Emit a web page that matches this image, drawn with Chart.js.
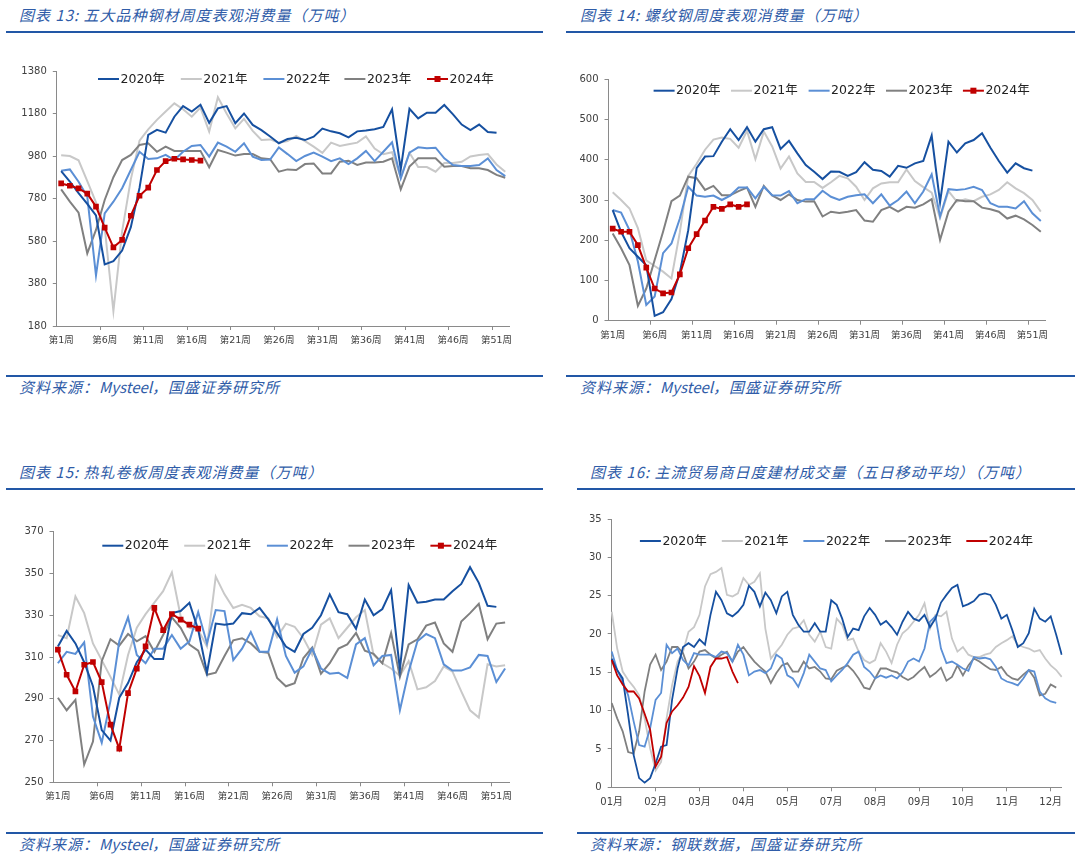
<!DOCTYPE html>
<html><head><meta charset="utf-8">
<script src="https://cdn.jsdelivr.net/npm/chart.js@4.4.1/dist/chart.umd.min.js"></script>
<style>
html,body{margin:0;padding:0;background:#fff;}
body{width:1080px;height:855px;position:relative;overflow:hidden;}
.t{position:absolute;font-family:'Noto Sans CJK SC',sans-serif;font-style:italic;font-size:15px;letter-spacing:1px;color:#2f5ca8;white-space:nowrap;line-height:15px;}
.t span{letter-spacing:0;}
.r{position:absolute;height:2px;background:#2257a6;}
canvas{position:absolute;}
</style></head><body>
<div class="t" style="left:19px;top:7px">图表 13: 五大品种钢材周度表观消费量（万吨）</div>
<div class="r" style="left:6px;top:31px;width:537px"></div>
<div class="r" style="left:6px;top:375px;width:537px"></div>
<div class="t" style="left:19px;top:379px">资料来源：<span>Mysteel</span>，国盛证券研究所</div>

<div class="t" style="left:580px;top:7px">图表 14: 螺纹钢周度表观消费量（万吨）</div>
<div class="r" style="left:566px;top:31px;width:509px"></div>
<div class="r" style="left:566px;top:375px;width:509px"></div>
<div class="t" style="left:580px;top:379px">资料来源：<span>Mysteel</span>，国盛证券研究所</div>

<div class="t" style="left:19px;top:464px">图表 15: 热轧卷板周度表观消费量（万吨）</div>
<div class="r" style="left:6px;top:488px;width:537px"></div>
<div class="r" style="left:6px;top:832px;width:537px"></div>
<div class="t" style="left:19px;top:836px">资料来源：<span>Mysteel</span>，国盛证券研究所</div>

<div class="t" style="left:590px;top:464px">图表 16: 主流贸易商日度建材成交量（五日移动平均）（万吨）</div>
<div class="r" style="left:577px;top:488px;width:498px"></div>
<div class="r" style="left:577px;top:832px;width:498px"></div>
<div class="t" style="left:590px;top:836px">资料来源：钢联数据，国盛证券研究所</div>

<canvas id="c1"></canvas>
<canvas id="c2"></canvas>
<canvas id="c3"></canvas>
<canvas id="c4"></canvas>
<script>
// ---------- DATA ----------
const seriesNames = ['2020年','2021年','2022年','2023年','2024年'];
const weekLabels = Array.from({length: 52}, (_, i) => '第' + (i + 1) + '周');
const monthTicks = ['01月','02月','03月','04月','05月','07月','08月','09月','10月','11月','12月'];

// 图表13 五大品种钢材周度表观消费量
const five2020 = [909,860,805,755,700,470,485,535,645,830,1079,1103,1090,1165,1215,1189,1221,1136,1204,1215,1134,1180,1126,1102,1072,1040,1060,1066,1055,1071,1109,1096,1087,1068,1096,1100,1106,1117,1200,918,1202,1157,1184,1184,1220,1176,1128,1102,1128,1093,1089,null];
const five2021 = [983,980,960,862,762,645,250,625,870,1052,1105,1150,1189,1228,1200,1165,1208,1095,1256,1180,1110,1155,1098,1055,1058,1042,1050,1075,1050,1024,995,1043,1027,1035,1043,1072,1015,988,998,880,995,928,928,906,947,947,953,978,985,989,940,906];
const five2022 = [911,917,859,789,418,710,765,828,914,1000,966,969,985,961,1000,1027,1032,977,1043,1024,1000,1040,977,961,963,1020,989,956,980,996,977,956,969,942,969,1004,956,1000,1044,875,996,1021,1016,1019,969,938,933,933,938,969,914,885];
const five2023 = [823,765,713,522,632,773,880,961,985,1032,1040,1000,1024,1004,1004,1004,1004,927,1008,996,982,989,989,969,965,906,917,914,942,945,898,898,953,958,938,949,949,953,969,823,930,969,969,969,930,933,933,922,922,914,891,878];
const five2024 = [851,840,828,803,742,643,550,585,699,793,831,914,956,967,964,961,958];

// 图表14 螺纹钢周度表观消费量
const rebar2020 = [275,221,180,159,138,12,21,54,120,225,379,408,409,445,476,449,481,445,476,481,427,447,416,387,370,352,371,370,360,369,394,375,372,358,385,380,391,397,460,294,445,418,441,449,466,430,397,368,391,379,373,null];
const rebar2021 = [319,300,279,230,150,136,122,105,220,360,390,425,450,455,452,430,472,402,470,433,378,408,366,345,345,330,344,360,354,333,300,329,341,344,344,376,347,332,318,255,322,296,302,297,308,314,325,344,329,317,300,271];
const rebar2022 = [275,269,225,147,39,60,168,192,254,333,311,308,311,300,311,331,331,304,333,312,311,322,292,302,302,323,308,300,308,312,314,292,314,286,300,321,292,321,364,259,327,325,327,333,325,292,283,283,279,297,267,248];
const rebar2023 = [217,180,138,37,80,151,221,297,311,358,354,325,335,312,312,322,331,283,335,311,300,314,300,296,297,259,271,268,271,275,249,246,275,283,271,283,281,289,302,201,271,300,297,297,281,277,271,254,261,252,238,221];
const rebar2024 = [229,221,221,188,132,80,68,70,115,180,215,249,283,278,289,283,289];

// 图表15 热轧卷板周度表观消费量
const hrc2020 = [315,322.5,316.5,307.5,296,275,270,290.5,297.5,307.5,313.5,309,309,331,332,336,323,302.5,326,325.5,326,331,330.5,333.5,328,321.5,315,312.5,321,324,330,340,331.5,330.5,323.5,337.5,330,333,342,304,344.5,336,336.5,337.5,337.5,341.5,345,353,345.5,334.5,334,null];
const hrc2021 = [320.5,319,339,331,316.5,308.5,300.5,292,311,324,330.5,336,341.5,350.5,329.5,324,323,315,348.5,340,333.5,335,333.5,329.5,328.5,319.5,326,324.5,319,311,325.5,328.5,319,324,329,332.5,311,307,304.5,301,308,294.5,295.5,298.5,305.5,303,293.5,284.5,281,306.5,305.5,306];
const hrc2022 = [307,312.5,311.5,317,281.5,269,289,317.5,329,311,307,314,314,320.5,314,317.5,331.5,316.5,332.5,332,308.5,314,322,312.5,312.5,328,310.5,302.5,305.5,314,304.5,302,302.5,300,316,319,306,310.5,311,284.5,303,317.5,321,319,306.5,303.5,303.5,305,311,310.5,298,304.5];
const hrc2023 = [290.5,284.5,289.5,258.5,269.5,308,318.5,315.5,321,317.5,320,312.5,320.5,329,324,316,313,301.5,302.5,310.5,318,319,316.5,312.5,312,300,296,297.5,309.5,314.5,302,307,314,316,321.5,313,311.5,307,321.5,300.5,316,318.5,325,326.5,316.5,312.5,327,331,335.5,318.5,326,326.5];
const hrc2024 = [313.5,301.5,293.5,306.3,307.6,298,277.6,266.1,292.7,304.4,315.1,333.5,322.8,330.6,327.9,325.5,323.6];

// 图表16 主流贸易商日度建材成交量（五日移动平均），取样点
const deal2020 = [16.8,15.3,14.2,9.4,4.2,1.2,0.6,1.2,3.1,5.3,5.5,11.4,15.5,18.3,18.8,18.3,19.3,18.6,22.5,25.5,24.4,22.7,22.3,22.9,23.8,26.3,25.5,23.6,25.4,24.4,22.7,24.9,25.5,22.5,21.2,20.3,20.3,21.4,20.3,20.3,24.4,23.8,22.0,19.6,20.7,20.5,22.3,23.4,22.5,21.2,21.7,20.9,19.9,21.6,22.9,22.0,21.7,22.5,20.9,22.0,24.1,25.1,26.0,26.4,23.6,23.9,24.3,25.1,25.3,25.1,23.8,22.0,22.5,20.5,18.3,18.8,20.1,23.3,22.0,21.6,22.3,19.9,17.3];
const deal2021 = [22.9,18.1,15.1,14.0,13.1,12.0,9.0,5.1,2.2,3.3,9.0,13.3,16.4,17.7,20.3,20.9,22.5,26.2,27.8,28.1,28.6,25.1,24.9,25.3,27.3,26.4,26.8,27.9,20.7,16.8,17.7,18.6,19.9,20.7,20.9,21.8,19.9,19.0,20.3,18.3,18.1,22.0,21.2,19.2,19.4,17.7,16.6,16.2,16.6,18.8,17.7,16.2,18.6,20.1,20.7,21.6,22.5,24.0,20.7,22.5,22.3,22.9,19.4,17.7,18.3,17.3,17.0,17.0,17.3,17.5,18.3,18.8,19.2,19.7,18.6,18.3,18.1,17.7,17.9,16.8,15.9,15.3,14.4];
const deal2022 = [17.7,15.3,13.8,12.0,8.6,5.5,5.3,7.7,11.4,12.3,18.6,17.5,18.1,16.6,15.9,17.5,17.3,17.3,17.3,17.0,17.7,17.5,16.4,18.6,17.3,14.6,15.1,15.3,14.9,15.5,17.3,16.8,14.6,14.2,13.1,14.9,17.3,16.4,15.5,15.3,13.8,14.6,15.3,16.2,17.3,17.7,15.7,15.1,14.2,14.6,14.3,14.6,14.2,15.0,16.4,16.8,16.4,18.1,21.6,22.3,18.1,16.2,16.4,16.0,15.5,15.2,17.0,16.8,16.9,16.7,15.7,14.2,13.8,13.6,13.3,14.2,15.3,15.1,12.5,11.6,11.2,11.0,null];
const deal2023 = [11.0,9.0,7.3,4.6,4.4,7.3,12.5,16.0,17.3,15.3,16.4,18.3,18.3,17.5,15.5,16.4,17.7,17.9,17.3,16.8,17.3,17.7,16.4,17.7,18.3,17.3,16.4,15.7,15.1,13.6,14.9,15.9,16.2,15.1,15.1,16.4,15.5,15.7,15.1,14.2,14.1,15.2,15.6,15.9,15.2,14.2,13.0,12.8,14.2,15.5,15.5,15.2,15.0,14.4,14.0,14.4,15.1,15.7,14.4,14.9,15.6,13.9,14.4,15.9,14.6,15.9,16.8,16.4,15.9,15.4,15.3,15.7,14.7,14.2,14.0,14.7,15.3,14.3,12.0,12.2,13.4,13.0,null];
const deal2024 = [16.6,14.6,13.4,12.5,12.5,11.6,9.6,7.5,2.7,4.0,8.4,9.9,10.7,11.7,13.1,15.8,14.5,12.3,15.7,16.8,16.8,17.0,15.1,13.6];
const dayLabels = deal2020.map((_, i) => (i % 8 === 0 ? monthTicks[i / 8] : ''));

// ---------- STYLE ----------
const COLORS = ['#1650a0', '#c8c8c8', '#5b8fd5', '#808080', '#c00000'];
const ORDER = [1, 4, 2, 3, 0];
const AX = '#8a8a8a';
const TICKC = '#404040';
const NUMFONT = "'DejaVu Sans','Noto Sans CJK SC',sans-serif";
const CJKFONT = "'DejaVu Sans','Noto Sans CJK SC',sans-serif";

const legendPlugin = {
  id: 'inLegend',
  afterDatasetsDraw(chart, args, opts) {
    const ctx = chart.ctx;
    ctx.save();
    ctx.font = '12.5px ' + NUMFONT;
    ctx.textBaseline = 'middle';
    ctx.textAlign = 'left';
    chart.data.datasets.forEach((d, k) => {
      const x = opts.xs[k], y = opts.y;
      ctx.strokeStyle = d.borderColor;
      ctx.lineWidth = 2;
      ctx.beginPath(); ctx.moveTo(x, y); ctx.lineTo(x + 21, y); ctx.stroke();
      if (d.pointRadius > 0) {
        ctx.fillStyle = d.borderColor;
        ctx.fillRect(x + 7.5, y - 3, 6, 6);
      }
      ctx.fillStyle = '#222';
      ctx.fillText(d.label, x + 22.5, y + 0.5);
    });
    ctx.restore();
  }
};

function makeDatasets(arrs, markers, width) {
  return arrs.map((a, k) => ({
    label: seriesNames[k], data: a,
    borderColor: COLORS[k], backgroundColor: COLORS[k],
    borderWidth: width, tension: 0, fill: false, spanGaps: false,
    pointRadius: (markers && k === 4) ? 4 : 0,
    pointStyle: 'rect', pointHoverRadius: 0,
    pointBorderWidth: 0,
    order: ORDER[k]
  }));
}

function makeChart(id, box, area, legend, labels, datasets, ymin, ymax, ystep, weekly) {
  const cv = document.getElementById(id);
  cv.style.left = box.x + 'px'; cv.style.top = box.y + 'px';
  cv.width = box.w; cv.height = box.h;
  const tgt = {l: area.l - box.x, t: area.t - box.y, r: area.r - box.x, b: area.b - box.y};
  const pad = {left: 10, top: 10, right: 10, bottom: 10};
  const every = weekly ? 5 : 8;
  const xScale = {
    type: 'category', offset: weekly,
    grid: {
      offset: weekly, drawOnChartArea: false, drawTicks: true, tickLength: 4, lineWidth: 1,
      color: c => (c.index !== undefined && c.index > 0 && c.index % every === 0) ? AX : 'rgba(0,0,0,0)'
    },
    border: {display: true, color: AX, width: 1},
    ticks: {
      autoSkip: false, maxRotation: 0, minRotation: 0, padding: 5, color: TICKC,
      font: {family: CJKFONT, size: weekly ? 9.5 : 10},
      callback: (v, i) => (i % every === 0 ? labels[i] : '')
    }
  };
  const chart = new Chart(cv, {
    type: 'line',
    data: {labels: labels, datasets: datasets},
    options: {
      responsive: false, animation: false, devicePixelRatio: 1,
      layout: {padding: Object.assign({}, pad)},
      events: [],
      plugins: {legend: {display: false}, tooltip: {enabled: false},
        inLegend: {xs: legend.xs.map(v => v - box.x), y: legend.y - box.y}},
      scales: {
        x: xScale,
        y: {
          min: ymin, max: ymax,
          ticks: {stepSize: ystep, padding: 6, color: TICKC, font: {family: NUMFONT, size: 10},
            callback: v => String(v)},
          grid: {drawOnChartArea: false, drawTicks: true, tickLength: 4, color: AX},
          border: {display: true, color: AX, width: 1}
        }
      }
    },
    plugins: [legendPlugin]
  });
  for (let k = 0; k < 3; k++) {
    const ca = chart.chartArea;
    pad.left += tgt.l - ca.left;
    pad.top += tgt.t - ca.top;
    pad.right += ca.right - tgt.r;
    pad.bottom += ca.bottom - tgt.b;
    chart.options.layout.padding = Object.assign({}, pad);
    chart.update('none');
  }
  return chart;
}

makeChart('c1', {x: 0, y: 45, w: 540, h: 325}, {l: 56.8, t: 71, r: 509.6, b: 326},
  {xs: [98, 180.8, 263.4, 344.4, 427], y: 79}, weekLabels,
  makeDatasets([five2020, five2021, five2022, five2023, five2024], true, 2), 180, 1380, 200, true);

makeChart('c2', {x: 545, y: 45, w: 535, h: 325}, {l: 608.5, t: 79.3, r: 1045, b: 320.7},
  {xs: [653.6, 731, 808.6, 886, 962.9], y: 90.7}, weekLabels,
  makeDatasets([rebar2020, rebar2021, rebar2022, rebar2023, rebar2024], true, 2), 0, 600, 100, true);

makeChart('c3', {x: 0, y: 500, w: 540, h: 330}, {l: 53.5, t: 531.7, r: 509.5, b: 782.3},
  {xs: [102.3, 184.2, 266.9, 348.5, 430.4], y: 545.7}, weekLabels,
  makeDatasets([hrc2020, hrc2021, hrc2022, hrc2023, hrc2024], true, 2), 250, 370, 20, true);

makeChart('c4', {x: 545, y: 500, w: 535, h: 330}, {l: 611.7, t: 519, r: 1061.7, b: 787.3},
  {xs: [639.9, 721.8, 803.4, 885, 966.3], y: 541}, dayLabels,
  makeDatasets([deal2020, deal2021, deal2022, deal2023, deal2024], false, 1.8), 0, 35, 5, false);
</script>
</body></html>
